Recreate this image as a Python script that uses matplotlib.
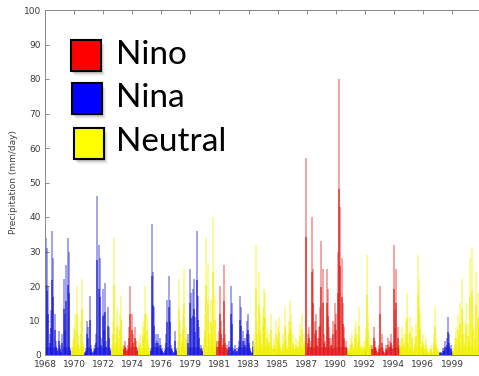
import numpy as np
import matplotlib
matplotlib.use("Agg")
import matplotlib.pyplot as plt
from matplotlib.patches import Rectangle

# ---------------- data ----------------
tick_labels = ["1968", "1970", "1972", "1974", "1976", "1979", "1981", "1983",
               "1985", "1987", "1990", "1992", "1994", "1996", "1999"]

# ENSO phase segments along the time axis (in tick-interval units)
seg_phase = ["Nina", "Neutral", "Nina", "Neutral", "Nino", "Neutral", "Nina",
             "Neutral", "Nina", "Neutral", "Nino", "Nina", "Neutral", "Nino",
             "Neutral", "Nino", "Neutral", "Nina", "Neutral"]
seg_start = [0.00, 0.89, 1.34, 2.27, 2.68, 3.20, 3.61, 4.54, 4.91, 5.43, 5.91,
             6.32, 7.18, 8.97, 10.41, 11.24, 12.20, 13.57, 14.02]
seg_end = [0.89, 1.34, 2.27, 2.68, 3.20, 3.61, 4.54, 4.91, 5.43, 5.91, 6.32,
           7.18, 8.97, 10.41, 11.24, 12.20, 13.57, 14.02, 15.05]

# precipitation spikes (mm/day) within each segment
seg_values = [
    [34, 31, 20, 6, 13, 36, 28, 12, 4, 2, 7, 3, 1, 6, 22, 12, 26, 34, 30, 2],
    [2, 4, 8, 12, 20, 6, 3, 10, 22, 4],
    [1, 2, 10, 8, 17, 3, 1, 2, 3, 6, 46, 32, 28, 5, 19, 12, 21, 4, 14, 8, 2],
    [3, 10, 34, 6, 14, 8, 12, 17, 4],
    [3, 4, 2, 3, 8, 20, 12, 6, 8, 4, 2],
    [4, 6, 3, 10, 8, 20, 12, 5, 2],
    [2, 38, 24, 14, 6, 4, 6, 5, 3, 2, 1, 2, 6, 16, 23, 16, 3, 2, 1, 7, 2],
    [4, 22, 10, 6, 12, 25, 8, 3],
    [6, 25, 18, 19, 22, 11, 36, 17, 8, 3, 2],
    [5, 12, 34, 26, 10, 16, 8, 40, 17, 6],
    [4, 7, 20, 10, 5, 26, 6, 3, 2],
    [4, 20, 15, 2, 3, 1, 2, 4, 17, 14, 7, 4, 5, 10, 12, 6, 2, 1, 4],
    [6, 32, 10, 24, 12, 6, 14, 19, 18, 8, 4, 6, 12, 3, 5, 2, 10, 8, 11, 4,
     2, 6, 14, 7, 3, 10, 16, 12, 6, 3, 5, 2, 4, 9, 3, 12, 6, 4],
    [57, 6, 8, 4, 40, 25, 10, 12, 5, 8, 14, 33, 25, 6, 4, 25, 19, 8, 5, 3,
     10, 15, 12, 30, 80, 43, 28, 15, 8, 4, 2],
    [2, 3, 5, 6, 3, 8, 10, 6, 14, 4, 3, 2, 4, 8, 29, 12, 5, 3],
    [3, 8, 4, 2, 1, 3, 20, 6, 2, 1, 3, 2, 5, 4, 6, 3, 32, 13, 25, 8, 3],
    [4, 8, 3, 6, 10, 18, 6, 11, 3, 8, 2, 5, 9, 29, 22, 12, 4, 6, 3, 5,
     2, 1, 2, 3, 1, 6, 14, 5, 2, 1],
    [1, 1, 2, 2, 4, 5, 11, 6, 3, 1],
    [2, 5, 8, 12, 6, 15, 22, 10, 6, 15, 9, 4, 28, 31, 12, 8, 24, 18, 10, 30, 20],
]

phase_names = ["Nino", "Nina", "Neutral"]
bar_colors = {"Nino": "#e01818", "Nina": "#1818d8", "Neutral": "#f0f000"}
box_colors = {"Nino": "#ff0000", "Nina": "#0000ff", "Neutral": "#ffff00"}

# ---------------- figure ----------------
W, H = 479, 376
fig = plt.figure(figsize=(W / 100, H / 100), dpi=100)
ax = fig.add_axes([45 / W, 21 / H, 439 / W, 345 / H])

for ph, s, e, vals in zip(seg_phase, seg_start, seg_end, seg_values):
    n = len(vals)
    xs = s + (np.arange(n) + 0.5) * (e - s) / n
    v = np.array(vals, dtype=float)
    ax.vlines(xs, 0, v, colors=bar_colors[ph], linewidth=1.1, alpha=0.5)
    ax.vlines(xs, 0, v * 0.6, colors=bar_colors[ph], linewidth=1.2, alpha=0.7)
    base = np.minimum(v, 4) * 0.6
    ax.fill_between(np.r_[s, xs, e], 0, np.r_[base[0], base, base[-1]],
                    color=bar_colors[ph], alpha=0.55, linewidth=0)

ax.set_xlim(0, 15.1)
ax.set_ylim(0, 100)
ax.set_xticks(np.arange(len(tick_labels)))
ax.set_xticklabels(tick_labels)
ax.set_yticks(np.arange(0, 101, 10))
ax.tick_params(direction="in", length=3, width=0.6, colors="#777777",
               labelcolor="#3a3a3a", labelsize=6.5, top=True, right=True, pad=2)
ax.tick_params(axis="x", pad=3.5)
ax.tick_params(axis="y", pad=3)
for sp in ax.spines.values():
    sp.set_color("#888888")
    sp.set_linewidth(0.7)
ax.set_ylabel("Precipitation (mm/day)", fontsize=6.5, color="#444444", labelpad=4)

# ---------------- legend (boxes with shadows) ----------------
box_x = [71, 72, 74]
box_y = [40, 83, 128]
text_y = [55, 98, 142]
for name, bx, by, ty in zip(phase_names, box_x, box_y, text_y):
    for k, a in enumerate([0.10, 0.08, 0.06, 0.04]):
        sh = Rectangle(((bx + 1 + k) / W, 1 - (by + 31 + 2 + k) / H), 30 / W, 31 / H,
                       transform=fig.transFigure, facecolor="black", alpha=a,
                       edgecolor="none", zorder=5)
        fig.add_artist(sh)
    r = Rectangle((bx / W, 1 - (by + 31) / H), 30 / W, 31 / H,
                  transform=fig.transFigure, facecolor=box_colors[name],
                  edgecolor="black", linewidth=1.5, zorder=6)
    fig.add_artist(r)
    fig.text(116 / W, 1 - ty / H, name, fontsize=24, family="Lato",
             va="center", ha="left", color="black", zorder=7)

fig.savefig("out.png", dpi=100)
